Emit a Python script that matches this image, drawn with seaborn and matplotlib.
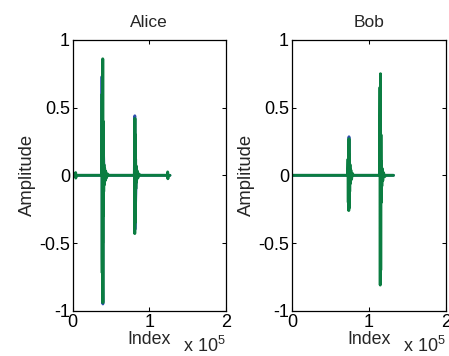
import numpy as np
import pandas as pd
import matplotlib
matplotlib.use('Agg')
import matplotlib.pyplot as plt
import seaborn as sns

# Alice, channel 2 (green, drawn on top)
alice_idx = [0, 3500, 3800, 4000, 4300,
             38000, 38300, 38500, 38800, 39000, 39200, 39400, 39600, 39800, 40100, 40400,
             40800, 41200, 41700, 42300, 43000, 44000, 45500, 47000,
             80500, 80800, 81000, 81200, 81400, 81600, 81800, 82100, 82400, 82800, 83300,
             84000, 85000, 86500, 88000,
             123500, 124000, 124300, 124600, 127000]
alice_green = [0, 0, 0.02, -0.02, 0,
               0, 0.60, -0.72, 0.55, -0.50, 0.86, -0.94, 0.40, -0.30, 0.15, -0.12,
               0.08, -0.07, 0.05, -0.04, 0.03, -0.02, 0.01, 0,
               0, 0.20, -0.43, 0.42, -0.35, 0.30, -0.22, 0.12, -0.10, 0.07, -0.05,
               0.035, -0.02, 0.01, 0,
               0, 0.025, -0.025, 0, 0]
# Alice, channel 1 (blue, mostly hidden)
alice_blue_idx = [0, 38000, 38200, 38500, 39400, 39600, 41000, 80500, 81100, 81300, 83000, 127000]
alice_blue = [0, 0, 0.73, -0.60, -0.95, 0.30, 0, 0, 0.44, -0.40, 0, 0]

# Bob
bob_idx = [0, 72500, 73000, 73300, 73600, 73900, 74200, 74500, 74800, 75100, 75500,
           76000, 76600, 77500, 78500, 80000,
           114000, 114500, 114800, 115100, 115400, 115700, 116000, 116400, 116800,
           117300, 118000, 119000, 120500, 122000, 132000]
bob_green = [0, 0, 0.12, -0.20, 0.22, -0.26, 0.27, -0.24, 0.15, -0.12, 0.08,
             -0.06, 0.04, -0.03, 0.015, 0,
             0, 0.65, -0.81, 0.75, -0.70, 0.30, -0.20, 0.10, -0.08,
             0.05, -0.04, 0.02, -0.01, 0, 0]
bob_blue_idx = [0, 74100, 74200, 74400, 132000]
bob_blue = [0, 0, 0.285, 0, 0]

yticks = [-1, -0.5, 0, 0.5, 1]
ytick_labels = ['-1', '-0.5', '0', '0.5', '1']
xticks = [0, 1e5, 2e5]
xtick_labels = ['0', '1', '2']

sns.set_style('ticks')
plt.rcParams['font.family'] = ['Liberation Sans', 'DejaVu Sans']
plt.rcParams['mathtext.fontset'] = 'custom'
plt.rcParams['mathtext.rm'] = 'Liberation Sans'

blue = '#2f4fae'
green = '#0b7d41'

fig = plt.figure(figsize=(4.49, 3.56), dpi=100)
ax1 = fig.add_axes([0.162, 0.127, 0.341, 0.761])
ax2 = fig.add_axes([0.650, 0.127, 0.343, 0.761])

panels = [
    (ax1, 'Alice', alice_blue_idx, alice_blue, alice_idx, alice_green),
    (ax2, 'Bob', bob_blue_idx, bob_blue, bob_idx, bob_green),
]

for ax, name, bx, by, gx, gy in panels:
    sns.lineplot(x=bx, y=by, ax=ax, color=blue, linewidth=2, sort=False, estimator=None)
    sns.lineplot(x=gx, y=gy, ax=ax, color=green, linewidth=2.1, sort=False, estimator=None)
    ax.set_xlim(0, 2e5)
    ax.set_ylim(-1, 1)
    ax.set_xticks(xticks)
    ax.set_xticklabels(xtick_labels)
    ax.set_yticks(yticks)
    ax.set_yticklabels(ytick_labels)
    ax.tick_params(direction='in', length=3, width=0.75, top=True, right=True,
                   labelsize=13, pad=2, colors='black')
    for s in ax.spines.values():
        s.set_linewidth(0.9)
        s.set_color('black')
    ax.set_title(name, fontsize=12.5, pad=9)
    ax.set_xlabel('Index', fontsize=12.8, labelpad=0)
    ax.set_ylabel('Amplitude', fontsize=13.3, labelpad=2)
    ax.text(1.0, -0.168, r'x 10$^{5}$', transform=ax.transAxes, ha='right', va='bottom',
            fontsize=13)

fig.savefig('out.png', dpi=100)
